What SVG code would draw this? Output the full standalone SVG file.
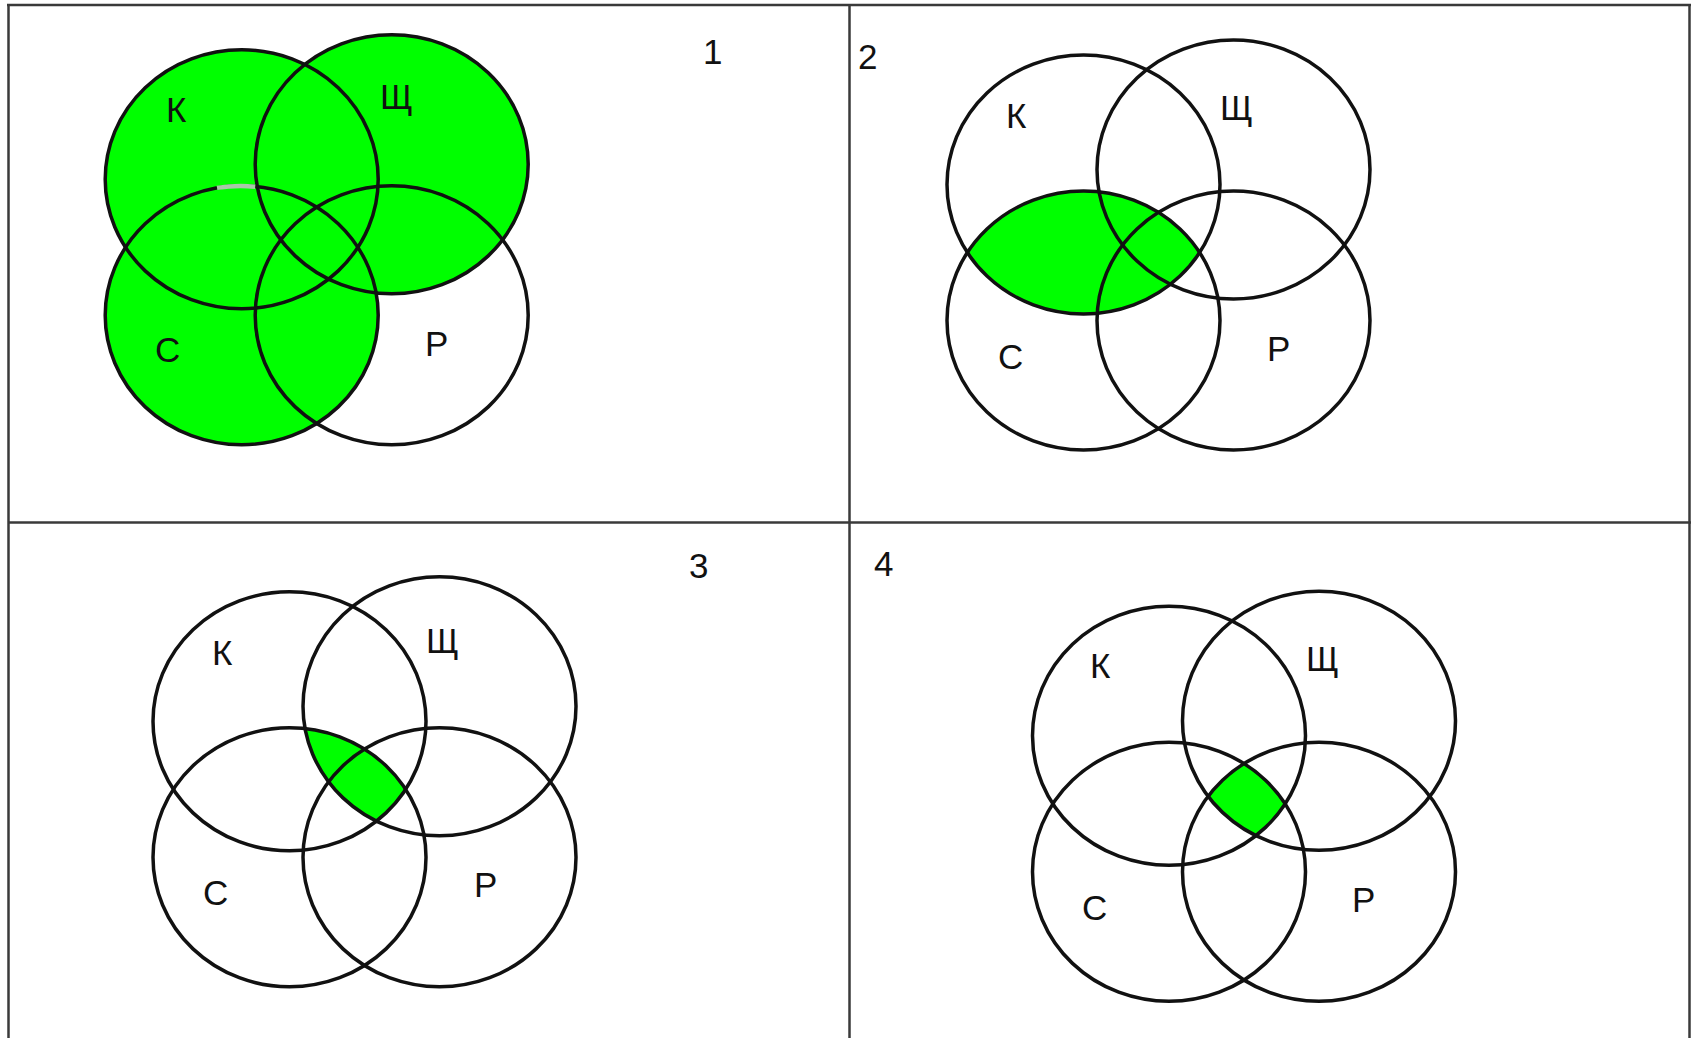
<svg xmlns="http://www.w3.org/2000/svg" xmlns:xlink="http://www.w3.org/1999/xlink" width="1691" height="1038" viewBox="0 0 1691 1038">
<style>
.fill{fill:#00ff00;stroke:none}
.ring{fill:none;stroke:#111;stroke-width:3.5}
.grid{stroke:#3a3a3a;stroke-width:2.5;fill:none}
.lbl{font-family:"Liberation Sans",Arial,sans-serif;font-size:35px;fill:#111}
</style>
<defs>
<ellipse id="eK" cx="0" cy="0" rx="136.5" ry="129.5"/>
<ellipse id="eS" cx="150" cy="-15" rx="136.5" ry="129.5"/>
<ellipse id="eC" cx="0" cy="136" rx="136.5" ry="129.5"/>
<ellipse id="eP" cx="150" cy="136" rx="136.5" ry="129.5"/>
<clipPath id="cK"><ellipse cx="0" cy="0" rx="136.5" ry="129.5"/></clipPath>
<clipPath id="cS"><ellipse cx="150" cy="-15" rx="136.5" ry="129.5"/></clipPath>
<clipPath id="cC"><ellipse cx="0" cy="136" rx="136.5" ry="129.5"/></clipPath>
<clipPath id="cP"><ellipse cx="150" cy="136" rx="136.5" ry="129.5"/></clipPath>
</defs>
<rect width="1691" height="1038" fill="#fff"/>
<g id="grid" class="grid">
<line x1="7" y1="5" x2="1691" y2="5"/>
<line x1="8.5" y1="4" x2="8.5" y2="1038"/>
<line x1="1689.5" y1="4" x2="1689.5" y2="1038"/>
<line x1="849.5" y1="4" x2="849.5" y2="1038"/>
<line x1="8" y1="522.5" x2="1691" y2="522.5"/>
</g>
<g id="panel1">
<g transform="translate(241.7,179.3)">
<use xlink:href="#eK" class="fill"/>
<use xlink:href="#eS" class="fill"/>
<use xlink:href="#eC" class="fill"/>
<use id="p1-K" xlink:href="#eK" class="ring"/>
<use id="p1-S" xlink:href="#eS" class="ring"/>
<use id="p1-C" xlink:href="#eC" class="ring"/>
<use id="p1-P" xlink:href="#eP" class="ring"/>
<path d="M -24.7 8.6 A 136.5 129.5 0 0 1 13.5 7.4" fill="none" stroke="#a9c7a9" stroke-width="4.5"/>
</g>
<text class="lbl" x="166" y="122">К</text>
<text class="lbl" x="380" y="109">Щ</text>
<text class="lbl" x="155" y="362">С</text>
<text class="lbl" x="425" y="356">Р</text>
<text class="lbl" x="703" y="64">1</text>
</g>
<g id="panel2">
<g transform="translate(1083.5,184.5)">
<use xlink:href="#eC" class="fill" clip-path="url(#cK)"/>
<use id="p2-K" xlink:href="#eK" class="ring"/>
<use id="p2-S" xlink:href="#eS" class="ring"/>
<use id="p2-C" xlink:href="#eC" class="ring"/>
<use id="p2-P" xlink:href="#eP" class="ring"/>
</g>
<text class="lbl" x="1006" y="128">К</text>
<text class="lbl" x="1220" y="120">Щ</text>
<text class="lbl" x="998" y="369">С</text>
<text class="lbl" x="1267" y="361">Р</text>
<text class="lbl" x="858" y="69">2</text>
</g>
<g id="panel3">
<g transform="translate(289.5,721.3)">
<g clip-path="url(#cK)"><use xlink:href="#eC" class="fill" clip-path="url(#cS)"/></g>
<use id="p3-K" xlink:href="#eK" class="ring"/>
<use id="p3-S" xlink:href="#eS" class="ring"/>
<use id="p3-C" xlink:href="#eC" class="ring"/>
<use id="p3-P" xlink:href="#eP" class="ring"/>
</g>
<text class="lbl" x="212" y="665">К</text>
<text class="lbl" x="426" y="653">Щ</text>
<text class="lbl" x="203" y="905">С</text>
<text class="lbl" x="474" y="897">Р</text>
<text class="lbl" x="689" y="578">3</text>
</g>
<g id="panel4">
<g transform="translate(1169,735.8)">
<g clip-path="url(#cK)"><g clip-path="url(#cS)"><use xlink:href="#eC" class="fill" clip-path="url(#cP)"/></g></g>
<use id="p4-K" xlink:href="#eK" class="ring"/>
<use id="p4-S" xlink:href="#eS" class="ring"/>
<use id="p4-C" xlink:href="#eC" class="ring"/>
<use id="p4-P" xlink:href="#eP" class="ring"/>
</g>
<text class="lbl" x="1090" y="678">К</text>
<text class="lbl" x="1306" y="671">Щ</text>
<text class="lbl" x="1082" y="920">С</text>
<text class="lbl" x="1352" y="912">Р</text>
<text class="lbl" x="874" y="576">4</text>
</g>
</svg>
